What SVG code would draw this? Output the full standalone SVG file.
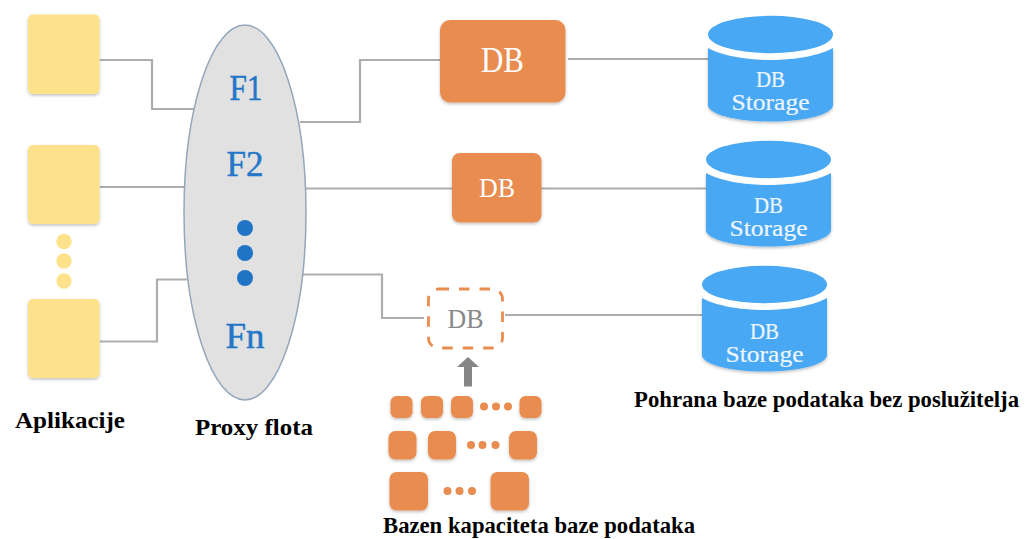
<svg xmlns="http://www.w3.org/2000/svg" width="1035" height="539" viewBox="0 0 1035 539">
<style>
.line{fill:none;stroke:#adadad;stroke-width:2.200}
.app{fill:#fee28b;filter:url(#sh)}
.ydot{fill:#fee28b}
.db{fill:#e98c4f;filter:url(#sh)}
.odot{fill:#e98c4f}
.bdot{fill:#1f74c6}
.cyl{fill:#48a8f4}
text{font-family:"Liberation Serif","DejaVu Serif",serif;text-anchor:middle}
.f{fill:#2477c8;font-size:36px;stroke:#2477c8;stroke-width:.5}
.w{fill:#fff}
.s{fill:#eef6fe;font-size:23px;stroke:#eef6fe;stroke-width:.2}
.lab{fill:#000;font-weight:bold;font-size:23px}
</style>
<defs>
<filter id="sh" x="-20%" y="-20%" width="140%" height="140%"><feDropShadow dx="0" dy="1.5" stdDeviation="1.5" flood-color="#000" flood-opacity=".25"/></filter>
<g id="cyl">
<ellipse class="cyl" cx="62.5" cy="20.5" rx="62.5" ry="18.7"/>
<path class="cyl" d="M0 34C12 41 36 46 62.5 46S113 41 125 34V91C125 100 98 107.500 62.500 107.500S0 100 0 91Z" filter="url(#sh)"/>
</g>
</defs>
<g id="connectors">
<path class="line" d="M99.500 60H152V109H195"/>
<path class="line" d="M99.500 187H186"/>
<path class="line" d="M99.500 341.500H157V279.500H189"/>
<path class="line" d="M300 122H360V60H440"/>
<path class="line" d="M306 188.500H452"/>
<path class="line" d="M302 274.500H382V318H424"/>
<path class="line" d="M568 59H708"/>
<path class="line" d="M541 188.500H706"/>
<path class="line" d="M505 315H702"/>
</g>
<g id="app1"><rect class="app" x="28" y="14.500" width="71.500" height="79.500" rx="5"/></g>
<g id="app2"><rect class="app" x="28" y="145" width="71.500" height="79" rx="5"/></g>
<g id="app-dots"><circle class="ydot" cx="64" cy="241.500" r="7.700"/><circle class="ydot" cx="64" cy="261" r="7.700"/><circle class="ydot" cx="64" cy="281" r="7.700"/></g>
<g id="app3"><rect class="app" x="28" y="299" width="71.500" height="79" rx="5"/></g>
<text class="lab" x="70" y="428" textLength="110" lengthAdjust="spacingAndGlyphs">Aplikacije</text>
<g id="proxy">
<ellipse cx="245" cy="212.500" rx="61" ry="187.500" fill="#e1e1e1" stroke="#94a7ba" stroke-width="1.500"/>
<text class="f" x="246" y="100" textLength="33" lengthAdjust="spacingAndGlyphs">F1</text>
<text class="f" x="245" y="176" textLength="37" lengthAdjust="spacingAndGlyphs">F2</text>
<circle class="bdot" cx="245" cy="228" r="8"/><circle class="bdot" cx="245" cy="253" r="8"/><circle class="bdot" cx="245" cy="278" r="8"/>
<text class="f" x="245" y="348" textLength="39" lengthAdjust="spacingAndGlyphs">Fn</text>
</g>
<text class="lab" x="254" y="435" textLength="118" lengthAdjust="spacingAndGlyphs">Proxy flota</text>
<g id="db1"><rect class="db" x="440" y="20" width="125.500" height="82.500" rx="10"/><text class="w" x="502.500" y="72" font-size="35" textLength="43" lengthAdjust="spacingAndGlyphs">DB</text></g>
<g id="db2"><rect class="db" x="452" y="153" width="89.500" height="69.500" rx="8"/><text class="w" x="497" y="197" font-size="28" textLength="36" lengthAdjust="spacingAndGlyphs">DB</text></g>
<g id="db3"><rect x="428.500" y="289" width="74" height="59" rx="10" fill="#fff" stroke="#e98c4f" stroke-width="2.800" stroke-dasharray="10.500 10"/><text x="465.500" y="328" font-size="28" fill="#888" textLength="36" lengthAdjust="spacingAndGlyphs">DB</text></g>
<path id="pool-arrow" fill="#858585" d="M464 386.500V367H457L468 357L479 367H472V386.500Z"/>
<g id="pool">
<rect class="db" x="390.500" y="396" width="22" height="22" rx="6"/><rect class="db" x="421" y="396" width="22" height="22" rx="6"/><rect class="db" x="451" y="396" width="22" height="22" rx="6"/>
<circle class="odot" cx="484" cy="406.500" r="4"/><circle class="odot" cx="496" cy="406.500" r="4"/><circle class="odot" cx="508" cy="406.500" r="4"/>
<rect class="db" x="519.500" y="396" width="22" height="22" rx="6"/>
<rect class="db" x="388.500" y="431" width="28" height="28.500" rx="7"/><rect class="db" x="428" y="431" width="28" height="28.500" rx="7"/>
<circle class="odot" cx="471" cy="445" r="4"/><circle class="odot" cx="482.500" cy="445" r="4"/><circle class="odot" cx="495.500" cy="445" r="4"/>
<rect class="db" x="509" y="431" width="28" height="28.500" rx="7"/>
<rect class="db" x="389.500" y="472" width="38.500" height="38.500" rx="7"/>
<circle class="odot" cx="447.500" cy="491" r="4"/><circle class="odot" cx="459.500" cy="491" r="4"/><circle class="odot" cx="472" cy="491" r="4"/>
<rect class="db" x="490.500" y="472" width="38.500" height="38.500" rx="7"/>
</g>
<text class="lab" x="539" y="533" textLength="312" lengthAdjust="spacingAndGlyphs">Bazen kapaciteta baze podataka</text>
<g id="storage1"><use href="#cyl" x="708" y="14"/><text class="s" x="770.500" y="87" textLength="29" lengthAdjust="spacingAndGlyphs">DB</text><text class="s" x="770.500" y="110" textLength="78" lengthAdjust="spacingAndGlyphs">Storage</text></g>
<g id="storage2"><use href="#cyl" x="706" y="139"/><text class="s" x="768.500" y="213" textLength="29" lengthAdjust="spacingAndGlyphs">DB</text><text class="s" x="768.500" y="236" textLength="78" lengthAdjust="spacingAndGlyphs">Storage</text></g>
<g id="storage3"><use href="#cyl" x="702" y="264"/><text class="s" x="764.500" y="339" textLength="29" lengthAdjust="spacingAndGlyphs">DB</text><text class="s" x="764.500" y="362" textLength="78" lengthAdjust="spacingAndGlyphs">Storage</text></g>
<text class="lab" x="826.500" y="407" textLength="385" lengthAdjust="spacingAndGlyphs">Pohrana baze podataka bez poslužitelja</text>
</svg>
